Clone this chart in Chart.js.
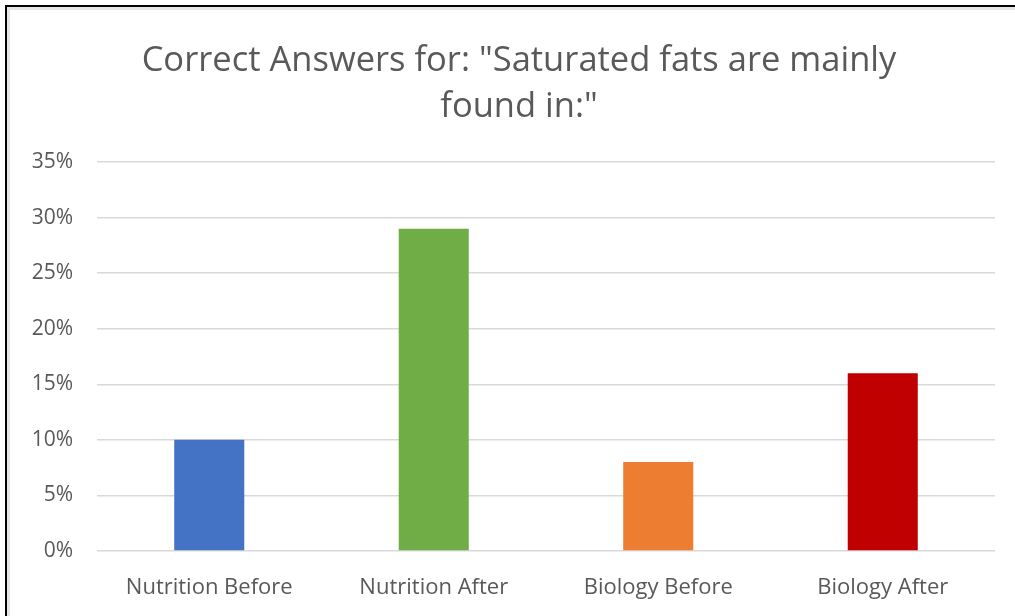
<!DOCTYPE html>
<html>
<head>
<meta charset="utf-8">
<script src="https://cdn.jsdelivr.net/npm/chart.js@4"></script>
<style>
    html, body { margin: 0; padding: 0; background: #fff; overflow: hidden; }
    #quadro {
        position: absolute; left: 5px; top: 5px;
        width: 1020px; height: 620px;
        border-left: 2px solid #000; border-top: 2px solid #000;
        box-shadow: inset 3px 3px 0 #e6e6e6;
    }
    #area { position: absolute; left: 0; top: 0; width: 1015px; height: 616px; }
    #titulo {
        position: absolute; left: 0; top: 35px; width: 1038px;
        text-align: center; color: #595959;
        font-family: 'Open Sans', sans-serif; font-size: 34.5px; line-height: 46px;
    }
</style>
</head>
<body>
<div id="quadro"></div>
<div id="area"><canvas id="grafico"></canvas></div>
<div id="titulo"></div>
<script>
// Dados do gráfico
var categorias = ["Nutrition Before", "Nutrition After", "Biology Before", "Biology After"];
var valores    = [0.10, 0.29, 0.08, 0.16];
var cores      = ["#4472C4", "#70AD47", "#ED7D31", "#C00000"];
var titulo     = ['Correct Answers for: "Saturated fats are mainly', 'found in:"'];

var fonte = "'Open Sans', sans-serif";

// Título em duas linhas, centrado sobre o quadro
var divTitulo = document.getElementById("titulo");
titulo.forEach(function (linha, i) {
    if (i > 0) divTitulo.appendChild(document.createElement("br"));
    divTitulo.appendChild(document.createTextNode(linha));
});

new Chart(document.getElementById("grafico"), {
    type: "bar",
    data: {
        labels: categorias,
        datasets: [{
            data: valores,
            backgroundColor: cores,
            borderWidth: 0,
            categoryPercentage: 1,
            barPercentage: 0.312
        }]
    },
    options: {
        responsive: true,
        maintainAspectRatio: false,
        animation: false,
        layout: { padding: { left: 0, right: 20, top: 162, bottom: 0 } },
        plugins: {
            legend: { display: false },
            tooltip: { enabled: false },
            title: { display: false }
        },
        scales: {
            x: {
                afterFit: function (escala) { escala.height = 65; },
                grid: { display: false, drawTicks: false },
                border: { display: false },
                ticks: {
                    color: "#595959",
                    padding: 24,
                    font: { family: fonte, size: 22 }
                }
            },
            y: {
                min: 0,
                max: 0.35,
                afterFit: function (escala) { escala.width = 97; },
                grid: { color: "#d9d9d9", lineWidth: 1.5, drawTicks: false },
                border: { display: false },
                ticks: {
                    stepSize: 0.05,
                    color: "#595959",
                    padding: 24,
                    font: { family: fonte, size: 21 },
                    callback: function (v) { return Math.round(v * 100) + "%"; }
                }
            }
        }
    }
});
</script>
</body>
</html>
